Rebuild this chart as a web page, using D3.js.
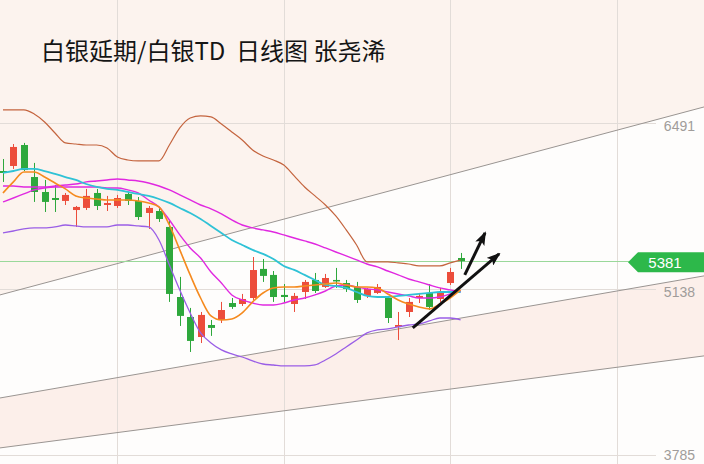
<!DOCTYPE html>
<html><head><meta charset="utf-8">
<script src="https://cdn.jsdelivr.net/npm/d3@7/dist/d3.min.js"></script>
<style>html,body{margin:0;padding:0;background:#fff;}svg{display:block;}</style>
</head><body>
<div id="chart"></div>
<script>
// ---- data ----
const title = "白银延期/白银TD  日线图 张尧浠";
const openP  = [6116,6157,6328,6067,5945,5896,5872,5798,5815,5937,5839,5831,5929,5872,5774,5790,5660,5089,4926,4763,4861,4902,5040,5032,5081,5318,5269,5106,5032,5130,5228,5171,5228,5203,5171,5098,5122,5081,4845,4967,5081,5122,5073,5203,5407];
const highP  = [6214,6336,6345,6182,6043,6002,5937,5831,5970,5970,5913,5921,5945,5904,5831,5815,5717,5253,5000,4967,4902,5049,5081,5114,5415,5399,5301,5195,5122,5228,5285,5277,5326,5228,5212,5163,5195,5098,4967,5081,5122,5195,5163,5326,5448];
const lowP   = [6027,6133,6116,5864,5782,5782,5839,5660,5798,5798,5790,5815,5839,5717,5644,5701,5049,4853,4641,4714,4772,4877,4992,5016,5065,5212,5049,5040,4967,5073,5122,5163,5163,5130,5040,5081,5114,4877,4739,4926,5040,4983,5049,5187,5318];
const closeP = [6100,6312,6124,5945,5864,5880,5921,5823,5913,5831,5855,5896,5872,5741,5815,5725,5114,4935,4731,4943,4837,4983,5008,5073,5309,5261,5089,5089,5098,5212,5138,5244,5220,5155,5065,5155,5171,4918,4861,5049,5098,5008,5130,5293,5381];

const bollUpper = [6614,6614,6614,6581,6516,6426,6345,6336,6328,6328,6304,6230,6206,6198,6198,6198,6328,6467,6548,6565,6557,6499,6434,6369,6288,6239,6206,6165,6076,5986,5913,5839,5750,5636,5513,5375,5375,5375,5367,5358,5342,5342,5342,5367,5391];
const bollLower = [5611,5627,5644,5652,5652,5660,5676,5668,5660,5660,5660,5676,5676,5668,5660,5554,5350,5146,4959,4796,4715,4658,4625,4600,4568,4543,4535,4527,4527,4527,4535,4576,4625,4682,4739,4796,4821,4829,4845,4861,4869,4894,4918,4918,4902];
const maSlow = [5994,5994,5986,5986,5986,5994,6002,6010,6027,6035,6043,6051,6043,6035,6018,5994,5962,5921,5880,5839,5807,5766,5717,5676,5652,5636,5619,5595,5570,5546,5521,5489,5456,5424,5391,5358,5334,5301,5269,5236,5212,5187,5163,5147,5130];
const maMid  = [5864,5896,5929,5962,5978,5986,5986,5986,5986,5986,5978,5978,5962,5937,5880,5823,5717,5595,5489,5407,5293,5203,5106,5065,5040,5024,5024,5040,5065,5081,5106,5138,5179,5187,5171,5155,5147,5130,5114,5098,5081,5081,5089,5114,5138];
const maCyan = [6100,6116,6133,6133,6116,6092,6067,6043,6010,5986,5970,5962,5945,5929,5913,5888,5856,5815,5774,5725,5668,5611,5554,5513,5473,5440,5399,5342,5310,5269,5228,5187,5179,5163,5130,5098,5089,5089,5098,5106,5114,5122,5130,5130,5130];
const maFast = [5937,6027,6108,6108,6067,6018,5970,5913,5896,5888,5880,5880,5880,5872,5856,5823,5676,5473,5269,5081,4935,4902,4910,4959,5049,5122,5163,5171,5171,5179,5187,5195,5203,5187,5171,5171,5163,5114,5065,5032,5008,4992,5032,5081,5147];

const priceTicks = [6491, 5138, 3785];
const lastPrice = 5381;
const gridIdx = [11, 27, 43, 59];
// trend lines: [index, price] pairs
const trendUpper  = [[-0.29, 5106], [67.4, 6638]];
const trendMiddle = [[-0.29, 4266], [67.4, 5261]];
const trendLower  = [[-0.29, 3859], [67.4, 4609]];
// annotation arrows: [index, price] from -> to
const arrows = [
  [[39.4, 4837], [47.7, 5440]],
  [[44.4, 5269], [46.35, 5611]]
];

// ---- drawing ----
const W = 704, H = 464;
const svg = d3.select("#chart").append("svg").attr("width", W).attr("height", H);
const x = d3.scaleLinear().domain([0, 44]).range([3, 460.6]);
const y = d3.scaleLinear().domain([3785, 6491]).range([457, 125]);

const pt = p => [x(p[0]), y(p[1])];
function lineAt(tl, px) {
  const [a, b] = tl.map(pt);
  return a[1] + (b[1] - a[1]) * (px - a[0]) / (b[0] - a[0]);
}

svg.append("rect").attr("width", W).attr("height", H).attr("fill", "#fefdfc");
svg.append("path").attr("fill", "#fcf3ee")
  .attr("d", d3.line()([[0,0],[W,0],[W,lineAt(trendUpper,W)],[0,lineAt(trendUpper,0)]]));
svg.append("path").attr("fill", "#fcefea")
  .attr("d", d3.line()([[0,lineAt(trendMiddle,0)],[W,lineAt(trendMiddle,W)],[W,lineAt(trendLower,W)],[0,lineAt(trendLower,0)]]));

// grid
svg.selectAll(".vg").data(gridIdx).enter().append("line")
  .attr("x1", d => Math.round(x(d)) + 0.5).attr("x2", d => Math.round(x(d)) + 0.5)
  .attr("y1", 0).attr("y2", H).attr("stroke", "#e2dcd8").attr("stroke-width", 1);
svg.selectAll(".hg").data(priceTicks).enter().append("line")
  .attr("x1", 0).attr("x2", 656)
  .attr("y1", d => Math.round(y(d)) - 1.5).attr("y2", d => Math.round(y(d)) - 1.5)
  .attr("stroke", "#e2dcd8").attr("stroke-width", 1);

// trend lines
[trendUpper, trendMiddle, trendLower].forEach(tl => {
  svg.append("line").attr("x1", 0).attr("y1", lineAt(tl, 0)).attr("x2", W).attr("y2", lineAt(tl, W))
    .attr("stroke", "#9a9592").attr("stroke-width", 1);
});

// last price line
svg.append("line").attr("x1", 0).attr("x2", 630)
  .attr("y1", Math.round(y(lastPrice)) + 0.5).attr("y2", Math.round(y(lastPrice)) + 0.5)
  .attr("stroke", "#9ad89a").attr("stroke-width", 1);

// candles
const idx = d3.range(openP.length);
const up = i => closeP[i] >= openP[i];
const cRed = "#ec4d3b", cGreen = "#2ea83c";
const cg = svg.append("g");
cg.selectAll(".wick").data(idx).enter().append("line")
  .attr("x1", i => Math.round(x(i)) + 0.5).attr("x2", i => Math.round(x(i)) + 0.5)
  .attr("y1", i => y(highP[i])).attr("y2", i => y(lowP[i]))
  .attr("stroke", i => up(i) ? cRed : cGreen).attr("stroke-width", 1);
cg.selectAll(".body").data(idx).enter().append("rect")
  .attr("x", i => Math.round(x(i)) - 3).attr("width", 7)
  .attr("y", i => y(Math.max(openP[i], closeP[i])))
  .attr("height", i => Math.max(1.5, Math.abs(y(openP[i]) - y(closeP[i]))))
  .attr("fill", i => up(i) ? cRed : cGreen);

// indicator lines
const ln = d3.line().x((d, i) => x(i)).y(d => y(d)).curve(d3.curveMonotoneX);
[[bollUpper, "#c4643e", 1.2], [bollLower, "#9a5ee6", 1.3], [maSlow, "#e028e0", 1.4],
 [maMid, "#e02ae0", 1.4], [maCyan, "#2fc2d6", 1.8], [maFast, "#f58a1e", 1.6]].forEach(([d, c, w]) => {
  svg.append("path").datum(d).attr("d", ln).attr("fill", "none").attr("stroke", c).attr("stroke-width", w);
});

// arrows
svg.append("defs").append("marker").attr("id", "ah").attr("markerUnits", "userSpaceOnUse")
  .attr("viewBox", "0 0 14 10").attr("refX", 12).attr("refY", 5)
  .attr("markerWidth", 14).attr("markerHeight", 10).attr("orient", "auto")
  .append("path").attr("d", "M0,0 L14,5 L0,10 L3,5 Z").attr("fill", "#111");
arrows.forEach(([a, b]) => {
  const p1 = pt(a), p2 = pt(b);
  svg.append("line").attr("x1", p1[0]).attr("y1", p1[1]).attr("x2", p2[0]).attr("y2", p2[1])
    .attr("stroke", "#111").attr("stroke-width", 3).attr("marker-end", "url(#ah)");
});

// price labels
svg.selectAll(".pl").data(priceTicks).enter().append("text")
  .attr("x", 695).attr("y", d => Math.min(y(d) + 1, 455)).attr("dy", "0.35em").attr("text-anchor", "end")
  .attr("font-family", "Liberation Sans, Arial, sans-serif").attr("font-size", 14)
  .attr("fill", "#a09c9a").text(d => d);

// last price tag
const ty = y(lastPrice) + 1;
svg.append("path").attr("fill", "#2db84a")
  .attr("d", d3.line()([[628, ty], [638, ty - 10], [704, ty - 10], [704, ty + 10], [638, ty + 10]]));
svg.append("text").attr("x", 665).attr("y", ty).attr("dy", "0.36em").attr("text-anchor", "middle")
  .attr("font-family", "Liberation Sans, Arial, sans-serif").attr("font-size", 15)
  .attr("fill", "#fff").text(lastPrice);

// title
svg.append("text").attr("x", 41).attr("y", 60)
  .attr("font-family", "Noto Sans CJK SC, sans-serif").attr("font-size", 24)
  .attr("fill", "#151515").text(title.replace(/ /g, "\u00a0"));
</script>
</body></html>
